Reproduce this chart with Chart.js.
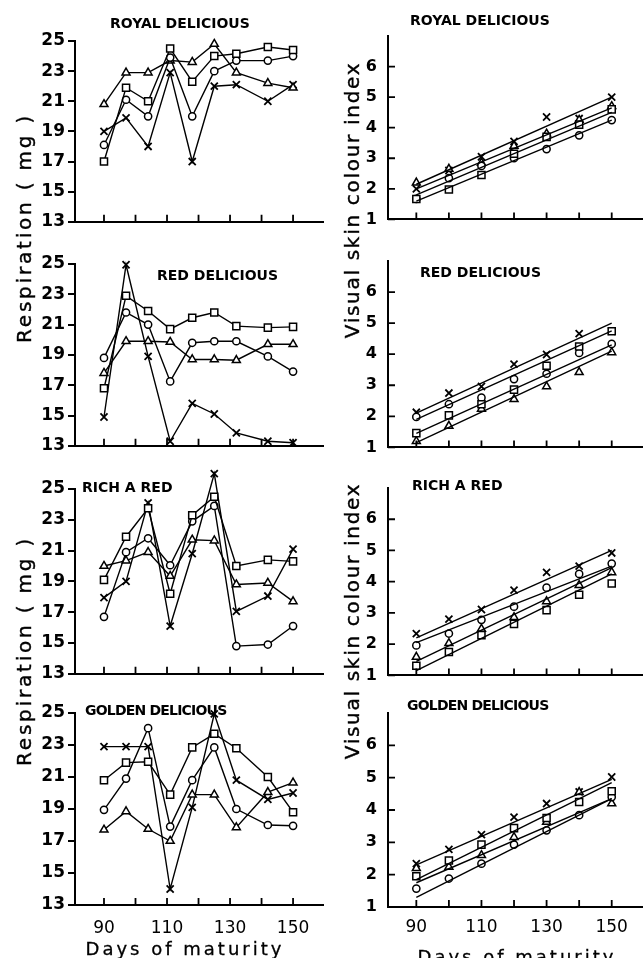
<!DOCTYPE html>
<html lang="en">
<head>
<meta charset="UTF-8">
<title>Respiration and skin colour of apple varieties</title>
<script src="https://cdn.jsdelivr.net/npm/chart.js"></script>
<style>
    body{
        margin: 0;
        background: #fff;
        width: 644px;
        height: 958px;
        position: relative;
        overflow: hidden;
        font-family: "DejaVu Sans", sans-serif;
        color: #000;
    }
    .panel{ position: absolute; }
    .name{
        position: absolute;
        font-size: 14px;
        font-weight: bold;
        white-space: nowrap;
        transform: translateY(-50%);
    }
    .ytitle{
        position: absolute;
        font-size: 20px;
        white-space: nowrap;
        -webkit-text-stroke: 0.4px #000;
        transform: translate(-50%, -50%) rotate(-90deg);
    }
    .xtitle{
        position: absolute;
        font-size: 18px;
        letter-spacing: 3px;
        white-space: nowrap;
        -webkit-text-stroke: 0.3px #000;
        transform: translate(-50%, -50%);
    }
</style>
</head>
<body>

<div class="panel" style="left:0;top:11px;width:330px;height:224px"><canvas id="respRoyal"></canvas></div>
<div class="panel" style="left:0;top:234px;width:330px;height:225px"><canvas id="respRed"></canvas></div>
<div class="panel" style="left:0;top:459px;width:330px;height:228px"><canvas id="respRich"></canvas></div>
<div class="panel" style="left:0;top:683px;width:330px;height:252px"><canvas id="respGolden"></canvas></div>

<div class="panel" style="left:330px;top:6px;width:314px;height:226px"><canvas id="colRoyal"></canvas></div>
<div class="panel" style="left:330px;top:231px;width:314px;height:229px"><canvas id="colRed"></canvas></div>
<div class="panel" style="left:330px;top:458px;width:314px;height:230px"><canvas id="colRich"></canvas></div>
<div class="panel" style="left:330px;top:683px;width:314px;height:256px"><canvas id="colGolden"></canvas></div>

<div class="name" style="left:110px;top:23px">ROYAL DELICIOUS</div>
<div class="name" style="left:157px;top:275px">RED DELICIOUS</div>
<div class="name" style="left:82px;top:487px">RICH A RED</div>
<div class="name" style="left:85px;top:710px;letter-spacing:-0.8px">GOLDEN DELICIOUS</div>
<div class="name" style="left:410px;top:20px">ROYAL DELICIOUS</div>
<div class="name" style="left:420px;top:272px">RED DELICIOUS</div>
<div class="name" style="left:412px;top:485px">RICH A RED</div>
<div class="name" style="left:407px;top:705px;letter-spacing:-0.8px">GOLDEN DELICIOUS</div>

<div class="ytitle" style="left:24px;top:228px;letter-spacing:2.8px">Respiration ( mg )</div>
<div class="ytitle" style="left:24px;top:651px;letter-spacing:2.8px">Respiration ( mg )</div>
<div class="ytitle" style="left:352px;top:200px;letter-spacing:1.7px">Visual skin colour index</div>
<div class="ytitle" style="left:352px;top:621px;letter-spacing:1.7px">Visual skin colour index</div>

<div class="xtitle" style="left:185px;top:948px">Days of maturity</div>
<div class="xtitle" style="left:517px;top:956px">Days of maturity</div>

<script>
    const FONT = '"DejaVu Sans", sans-serif';

    // sampling days
    const respDays = [90, 97, 104, 111, 118, 125, 132, 142, 150];
    const colourDays = [90, 100, 110, 120, 130, 140, 150];
    const fitDays = [90, 150];
    const dayTicks = [90, 100, 110, 120, 130, 140, 150];
    const dayLabels = [90, 110, 130, 150];
    const respTicks = [13, 15, 17, 19, 21, 23, 25];
    const colourTicks = [1, 2, 3, 4, 5, 6];

    // order of every series list below: square, circle, triangle, cross
    const markers = ['rect', 'circle', 'triangle', 'crossRot'];
    const markerSize = { rect: 5, circle: 3.6, triangle: 4.6, crossRot: 5 };

    // respiration (mg)
    const royalRespSquare   = [17.0, 21.9, 21.0, 24.5, 22.3, 24.0, 24.15, 24.6, 24.4];
    const royalRespCircle   = [18.1, 21.1, 20.0, 23.9, 20.0, 23.0, 23.7, 23.7, 24.0];
    const royalRespTriangle = [20.8, 22.9, 22.9, 23.7, 23.6, 24.8, 22.9, 22.2, 21.9];
    const royalRespCross    = [19.0, 19.9, 18.0, 22.9, 17.0, 22.0, 22.1, 21.0, 22.1];

    const redRespSquare   = [16.8, 22.9, 21.9, 20.7, 21.45, 21.8, 20.9, 20.8, 20.85];
    const redRespCircle   = [18.8, 21.8, 21.0, 17.25, 19.8, 19.9, 19.9, 18.9, 17.9];
    const redRespTriangle = [17.8, 19.9, 19.9, 19.85, 18.7, 18.7, 18.65, 19.7, 19.7];
    const redRespCross    = [14.9, 24.95, 18.9, 13.3, 15.8, 15.1, 13.85, 13.3, 13.2];

    const richRespSquare   = [19.1, 21.9, 23.75, 18.2, 23.3, 24.5, 20.0, 20.4, 20.3];
    const richRespCircle   = [16.7, 20.9, 21.8, 20.05, 22.9, 23.9, 14.8, 14.9, 16.1];
    const richRespTriangle = [20.0, 20.35, 20.9, 19.35, 21.7, 21.65, 18.8, 18.9, 17.7];
    const richRespCross    = [17.95, 19.0, 24.1, 16.1, 20.8, 26.0, 17.05, 18.05, 21.1];

    const goldenRespSquare   = [20.8, 21.9, 21.95, 19.9, 22.85, 23.7, 22.8, 21.0, 18.8];
    const goldenRespCircle   = [18.95, 20.9, 24.05, 17.9, 20.8, 22.85, 19.0, 18.0, 17.95];
    const goldenRespTriangle = [17.7, 18.85, 17.75, 17.0, 19.9, 19.9, 17.85, 20.05, 20.65];
    const goldenRespCross    = [22.9, 22.9, 22.9, 14.0, 19.1, 24.95, 20.8, 19.6, 20.0];

    // visual skin colour index
    const royalColSquare   = [1.67, 1.98, 2.45, 3.15, 3.7, 4.1, 4.6];
    const royalColCircle   = [1.67, 2.35, 2.75, 3.0, 3.3, 3.75, 4.25];
    const royalColTriangle = [2.2, 2.65, 2.85, 3.4, 3.8, 4.25, 4.7];
    const royalColCross    = [2.0, 2.6, 3.05, 3.55, 4.35, 4.3, 5.0];

    const redColSquare   = [1.46, 2.03, 2.39, 2.86, 3.63, 4.25, 4.74];
    const redColCircle   = [1.98, 2.39, 2.6, 3.2, 3.37, 4.04, 4.33];
    const redColTriangle = [1.2, 1.69, 2.24, 2.55, 2.96, 3.42, 4.06];
    const redColCross    = [2.13, 2.75, 2.96, 3.68, 3.99, 4.66, 4.74];

    const richColSquare   = [1.31, 1.75, 2.29, 2.65, 3.09, 3.58, 3.94];
    const richColCircle   = [1.96, 2.34, 2.78, 3.2, 3.81, 4.25, 4.58];
    const richColTriangle = [1.59, 2.03, 2.49, 2.86, 3.37, 3.89, 4.3];
    const richColCross    = [2.34, 2.8, 3.11, 3.73, 4.3, 4.5, 4.92];

    const goldenColSquare   = [1.95, 2.44, 2.93, 3.44, 3.75, 4.25, 4.58];
    const goldenColCircle   = [1.57, 1.88, 2.34, 2.93, 3.37, 3.84, 4.4];
    const goldenColTriangle = [2.2, 2.24, 2.6, 3.16, 3.63, 4.55, 4.2];
    const goldenColCross    = [2.34, 2.78, 3.24, 3.78, 4.2, 4.56, 5.02];

    // fitted lines, value at day 90 and day 150
    const royalFit90  = [1.8, 1.6, 2.0, 2.15];
    const royalFit150 = [4.5, 4.25, 4.65, 5.0];
    const redFit90  = [1.45, 1.9, 1.15, 2.1];
    const redFit150 = [4.3, 4.75, 4.1, 5.0];
    const richFit90  = [1.15, 2.05, 1.45, 2.2];
    const richFit150 = [4.25, 4.5, 4.45, 5.0];
    const goldenFit90  = [1.85, 1.3, 1.75, 2.3];
    const goldenFit150 = [4.85, 4.35, 4.35, 4.95];

    Chart.defaults.color = '#000';
    Chart.defaults.font.family = FONT;

    // tick marks drawn on the inside of the plot
    const innerTicks = {
        id: 'innerTicks',
        afterDatasetsDraw(chart, args, opts) {
            const { ctx, chartArea: a, scales: { x, y } } = chart;
            ctx.save();
            ctx.strokeStyle = '#000';
            ctx.lineWidth = 1.8;
            ctx.beginPath();
            x.ticks.forEach(t => {
                const px = x.getPixelForValue(t.value);
                ctx.moveTo(px, a.bottom);
                ctx.lineTo(px, a.bottom - opts.x);
            });
            if (opts.y) {
                y.ticks.forEach(t => {
                    const py = y.getPixelForValue(t.value);
                    ctx.moveTo(a.left, py);
                    ctx.lineTo(a.left + opts.y, py);
                });
            }
            ctx.stroke();
            ctx.restore();
        }
    };

    // points beyond the axis range are skipped by Chart.js, draw them anyway
    const overflowPoints = {
        id: 'overflowPoints',
        afterDatasetsDraw(chart) {
            const a = chart.chartArea;
            chart.data.datasets.forEach((ds, i) => {
                chart.getDatasetMeta(i).data.forEach(el => {
                    if (el.y < a.top || el.y > a.bottom) el.draw(chart.ctx);
                });
            });
        }
    };

    function seriesDataset(xs, ys, style, withLine) {
        return {
            data: xs.map((d, i) => ({ x: d, y: ys[i] })),
            showLine: withLine,
            borderColor: '#000',
            borderWidth: 1.4,
            backgroundColor: '#fff',
            pointStyle: style,
            pointRadius: markerSize[style],
            pointBorderWidth: style === 'crossRot' ? 1.8 : 1.5,
            pointBorderColor: '#000',
            pointBackgroundColor: '#fff',
            clip: false
        };
    }

    function fitDataset(start, end) {
        return {
            data: fitDays.map((d, i) => ({ x: d, y: i === 0 ? start : end })),
            showLine: true,
            borderColor: '#000',
            borderWidth: 1.4,
            pointRadius: 0,
            clip: false
        };
    }

    function xScale(min, max, height, labelled, pad) {
        return {
            type: 'linear',
            min: min,
            max: max,
            afterBuildTicks: s => { s.ticks = dayTicks.map(v => ({ value: v })); },
            afterFit: s => { s.height = height; },
            grid: { display: false },
            border: { color: '#000', width: 2 },
            ticks: {
                display: labelled,
                autoSkip: false,
                maxRotation: 0,
                padding: pad,
                font: { size: 17 },
                callback: v => dayLabels.includes(v) ? String(v) : ''
            }
        };
    }

    function baseOptions(padTop, padRight, scales, tickOpts) {
        return {
            responsive: true,
            maintainAspectRatio: false,
            animation: false,
            layout: { autoPadding: false, padding: { top: padTop, right: padRight, left: 0, bottom: 0 } },
            plugins: { legend: { display: false }, tooltip: { enabled: false }, innerTicks: tickOpts },
            scales: scales
        };
    }

    function respChart(id, series, lastRow) {
        const datasets = series.map((ys, i) => seriesDataset(respDays, ys, markers[i], true));
        new Chart(document.getElementById(id), {
            type: 'scatter',
            data: { datasets: datasets },
            plugins: [innerTicks, overflowPoints],
            options: baseOptions(30, 7, {
                x: xScale(80.8, 159.5, lastRow ? 30 : 6, lastRow, 5),
                y: {
                    min: 13,
                    max: 25,
                    afterBuildTicks: s => { s.ticks = respTicks.map(v => ({ value: v })); },
                    afterFit: s => { s.width = 75; },
                    grid: { drawOnChartArea: false, drawTicks: true, tickLength: 7, color: '#000', lineWidth: 2 },
                    border: { color: '#000', width: 2 },
                    ticks: { padding: 3, font: { size: 17, weight: 'bold' } }
                }
            }, { x: 7, y: 0 })
        });
    }

    function colourChart(id, series, fit90, fit150, lastRow) {
        const lines = fit90.map((v, i) => fitDataset(v, fit150[i]));
        const points = series.map((ys, i) => seriesDataset(colourDays, ys, markers[i], false));
        new Chart(document.getElementById(id), {
            type: 'scatter',
            data: { datasets: lines.concat(points) },
            plugins: [innerTicks, overflowPoints],
            options: baseOptions(30, 2, {
                x: xScale(81.3, 159.3, lastRow ? 32 : 6, lastRow, 2),
                y: {
                    min: 1,
                    max: 7,
                    afterBuildTicks: s => { s.ticks = colourTicks.map(v => ({ value: v })); },
                    afterFit: s => { s.width = 58; },
                    grid: { display: false },
                    border: { color: '#000', width: 2 },
                    ticks: { padding: 3, font: { size: 16, weight: 'bold' } }
                }
            }, { x: 7, y: 7 })
        });
    }

    respChart('respRoyal', [royalRespSquare, royalRespCircle, royalRespTriangle, royalRespCross], false);
    respChart('respRed', [redRespSquare, redRespCircle, redRespTriangle, redRespCross], false);
    respChart('respRich', [richRespSquare, richRespCircle, richRespTriangle, richRespCross], false);
    respChart('respGolden', [goldenRespSquare, goldenRespCircle, goldenRespTriangle, goldenRespCross], true);

    colourChart('colRoyal', [royalColSquare, royalColCircle, royalColTriangle, royalColCross], royalFit90, royalFit150, false);
    colourChart('colRed', [redColSquare, redColCircle, redColTriangle, redColCross], redFit90, redFit150, false);
    colourChart('colRich', [richColSquare, richColCircle, richColTriangle, richColCross], richFit90, richFit150, false);
    colourChart('colGolden', [goldenColSquare, goldenColCircle, goldenColTriangle, goldenColCross], goldenFit90, goldenFit150, true);
</script>
</body>
</html>
